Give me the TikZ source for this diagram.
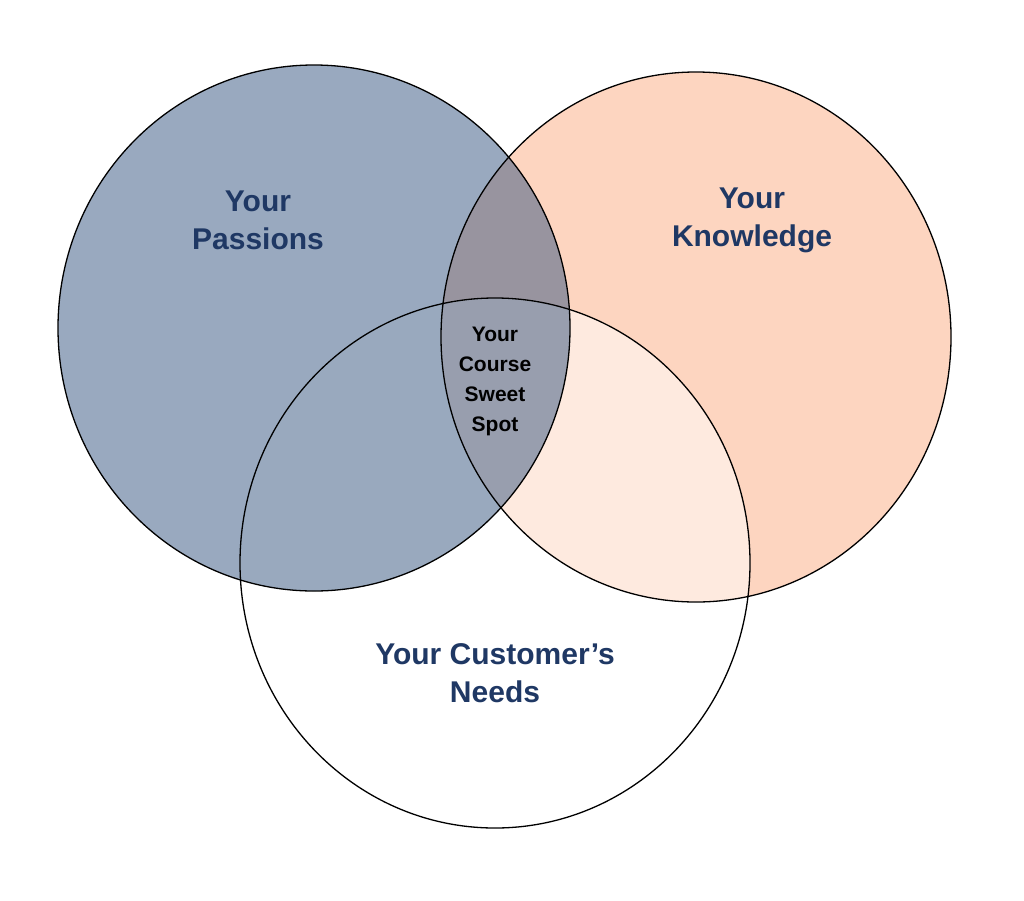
\documentclass[tikz,border=0pt]{standalone}
\usepackage{fontspec}
\setmainfont{Liberation Sans}
\definecolor{navy}{HTML}{34547F}
\definecolor{peach}{HTML}{FDD5C0}
\definecolor{labelblue}{HTML}{1F3864}

\begin{document}
\begin{tikzpicture}[x=1pt,y=-1pt,line width=1.3pt,
  biglabel/.style={text=labelblue,font=\bfseries\fontsize{30}{38}\selectfont,align=center},
  smalllabel/.style={font=\bfseries\fontsize{21}{30}\selectfont,align=center}]
\useasboundingbox(0,0)rectangle(1024,900);

\fill[peach](696,337)ellipse(255 and 265);
\fill[white,opacity=0.5](495,563)ellipse(255 and 265);
\fill[navy,opacity=0.5](314,328)ellipse(256 and 263);

\draw(314,328)ellipse(256 and 263);
\draw(696,337)ellipse(255 and 265);
\draw(495,563)ellipse(255 and 265);

\node[biglabel](passions)at(258,220){Your\\Passions};
\node[biglabel](knowledge)at(752,220){Your\\Knowledge};
\node[biglabel](needs)at(495,673){Your Customer's\\Needs};
\node[smalllabel](sweet)at(495,381){Your\\Course\\Sweet\\Spot};
\end{tikzpicture}
\end{document}
